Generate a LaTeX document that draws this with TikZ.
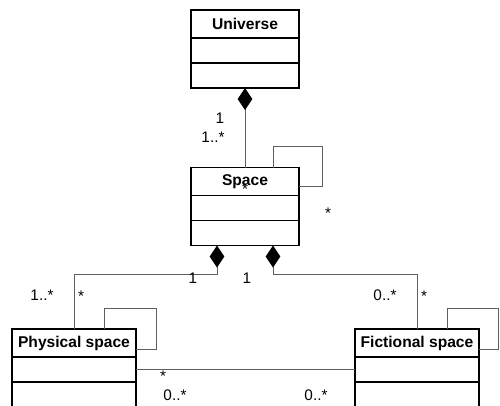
\documentclass[tikz,border=0pt]{standalone}
\usepackage{fontspec}
\setmainfont{Liberation Sans}
\usetikzlibrary{arrows.meta}
\usetikzlibrary{positioning}
\definecolor{L}{RGB}{95,95,95}
\tikzstyle{classhead} = [draw, line width=1.1pt, outer sep=0pt, inner sep=0pt,
minimum height=21pt, font=\fontsize{11.7}{14}\selectfont\bfseries]
\tikzstyle{classpart} = [draw, line width=1.1pt, outer sep=0pt, inner sep=0pt,
minimum height=18.75pt]
\tikzstyle{comp} = [{Diamond[length=16.5pt,width=11pt,color=black]}-, line width=0.6pt, draw=L]
\tikzstyle{assoc} = [line width=0.6pt, draw=L]
\tikzstyle{mult} = [anchor=base, inner sep=0pt, font=\fontsize{11.5}{13}\selectfont]
\begin{document}
\begin{tikzpicture}[x=0.75pt,y=-0.75pt]
\clip (0,0) rectangle (500,405);
% classes
\node[classhead, minimum width=81pt] (U) at (245,24) {Universe};
\node[classpart, minimum width=81pt, below=0pt of U] (U1) {};
\node[classpart, minimum width=81pt, below=0pt of U1] (U2) {};
\node[classhead, minimum width=81pt] (S) at (245,181.5) {Space};
\node[classpart, minimum width=81pt, below=0pt of S] (S1) {};
\node[classpart, minimum width=81pt, below=0pt of S1] (S2) {};
\node[classhead, minimum width=93pt] (P) at (74,343) {Physical space};
\node[classpart, minimum width=93pt, below=0pt of P] (P1) {};
\node[classpart, minimum width=93pt, below=0pt of P1] (P2) {};
\node[classhead, minimum width=93pt] (F) at (417,343) {Fictional space};
\node[classpart, minimum width=93pt, below=0pt of F] (F1) {};
\node[classpart, minimum width=93pt, below=0pt of F1] (F2) {};
% links
\draw[comp] (U2.south) -- (S.north);
\draw[assoc] ([xshift=21pt]S.north) |- ++(49,-21) |- ([yshift=-14pt]S.north east);
\draw[comp] ([xshift=-21pt]S2.south) -- ++(0,29) -| (P.north);
\draw[comp] ([xshift=21pt]S2.south) -- ++(0,29) -| (F.north);
\draw[assoc] ([xshift=23pt]P.north) |- ++(52,-21) |- ([yshift=-15pt]P.north east);
\draw[assoc] ([xshift=23pt]F.north) |- ++(51,-21) |- ([yshift=-15pt]F.north east);
\draw[assoc] (P1.east) -- (F1.west);
% multiplicities
\node[mult] (m1) at (220,123.5) {1};
\node[mult] (m2) at (213,142) {1..*};
\node[mult] (m3) at (328,218.5) {*};
\node[mult] (m4) at (245,194.5) {*};
\node[mult] (m5) at (193,283.5) {1};
\node[mult] (m6) at (247,283.5) {1};
\node[mult] (m7) at (42,300) {1..*};
\node[mult] (m8) at (81,301) {*};
\node[mult] (m9) at (385,300.5) {0..*};
\node[mult] (m10) at (424,301) {*};
\node[mult] (m11) at (163,381.5) {*};
\node[mult] (m12) at (175,400) {0..*};
\node[mult] (m13) at (316,400) {0..*};
\end{tikzpicture}
\end{document}
